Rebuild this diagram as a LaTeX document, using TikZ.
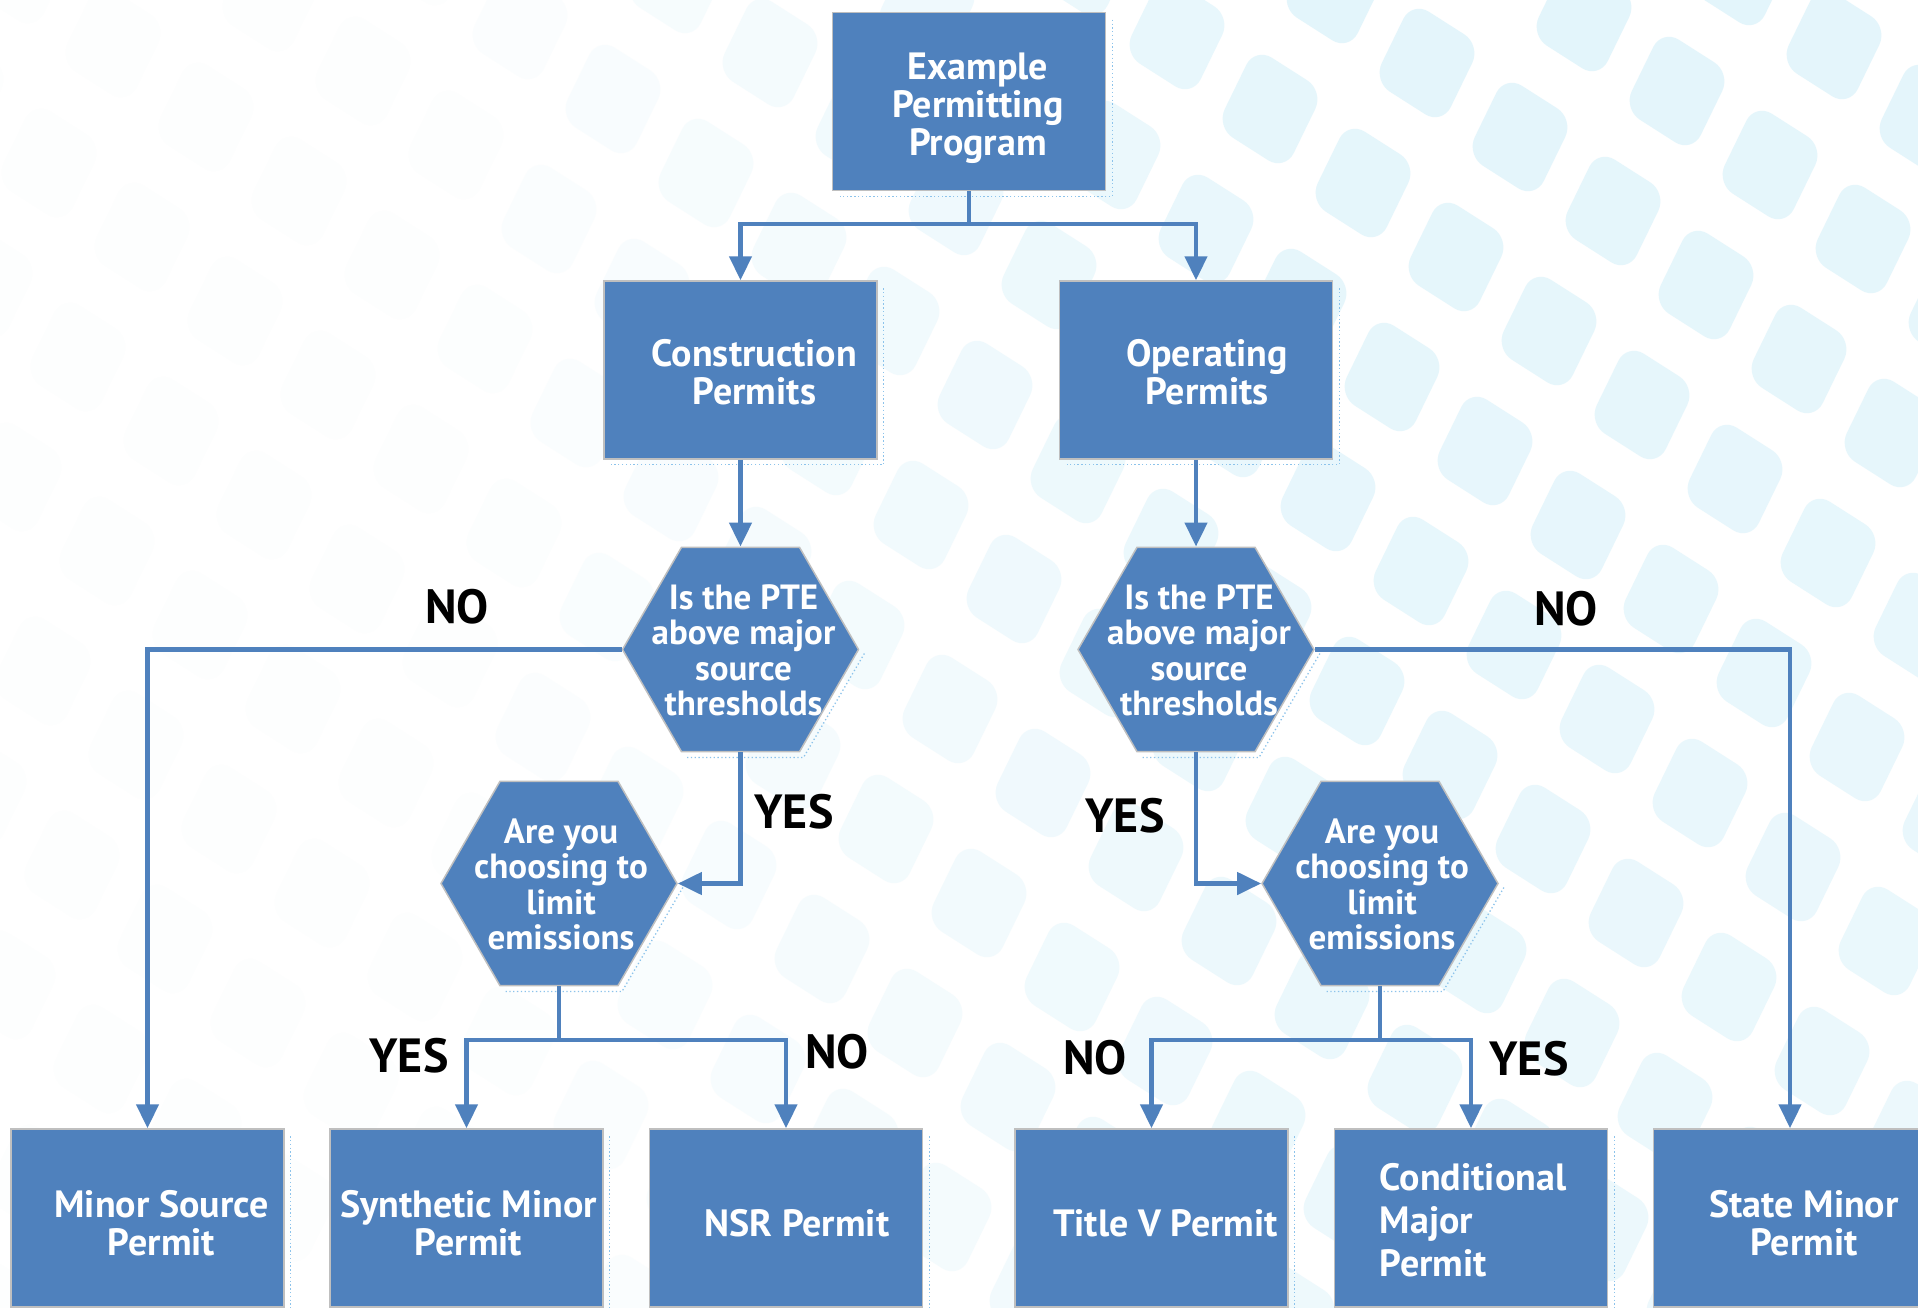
\documentclass[tikz,border=0pt]{standalone}
\usepackage{fontspec}
\setmainfont{PT Sans}
\usetikzlibrary{shapes.geometric,arrows.meta}
\definecolor{boxblue}{HTML}{4F81BD}
\definecolor{tilecol}{HTML}{DFF4FB}
\definecolor{edgegray}{HTML}{BFBFBF}
\definecolor{dotblue}{RGB}{140,195,235}
\newcommand\tb[2][c]{\begin{tabular}{@{}#1@{}}#2\end{tabular}}
\begin{document}
\begin{tikzpicture}[x=1pt,y=-1pt,
  box/.style={rectangle, fill=boxblue, draw=edgegray, line width=1.5pt,
    minimum width=273pt, minimum height=178pt, inner sep=0pt},
  hexa/.style={regular polygon, regular polygon sides=6, minimum size=236pt,
    fill=boxblue, draw=edgegray, line width=1.5pt, inner sep=0pt},
  ttxt/.style={text=white, font=\bfseries\fontsize{38}{36}\selectfont, inner sep=0pt},
  htxt/.style={text=white, font=\bfseries\fontsize{35}{35.5}\selectfont, inner sep=0pt},
  btxt/.style={text=white, font=\bfseries\fontsize{38}{36}\selectfont, inner sep=0pt},
  ctxt/.style={text=white, font=\bfseries\fontsize{38}{43}\selectfont, inner sep=0pt},
  lbl/.style={font=\bfseries\fontsize{48}{50}\selectfont, text=black, inner sep=0pt},
  conn/.style={draw=boxblue, line width=4.5pt},
  arr/.style={draw=boxblue, line width=4.5pt, -{Triangle[width=22pt,length=24pt]}},
  shadowdots/.style={draw=dotblue, line width=1.3pt, dash pattern=on 1.3pt off 2.5pt},
]
\useasboundingbox (0,0) rectangle (1918,1308);
\fill[white] (0,0) rectangle (1918,1308);
% background tiles
\begin{scope}
\clip (0,0) rectangle (1918,1308);
\foreach \i in {-12,...,10}{
  \foreach \j in {-4,...,15}{
    \pgfmathsetmacro\cx{1427+93*\i-64*\j}
    \pgfmathsetmacro\cy{63+74*\i+120*\j}
    \pgfmathsetmacro\op{min(0.85,max(0.06,(\cx-400)/1100))*(1-0.35*max(0,min(1,\cy/1308)))}
    \fill[tilecol, opacity=\op, rounded corners=20pt]
      ({\cx-15},{\cy-62}) -- ({\cx+54},{\cy-18}) -- ({\cx+15},{\cy+62}) -- ({\cx-54},{\cy+18}) -- cycle;
  }
}
\end{scope}

% nodes
\node[box, label={[ttxt,name=ttop,xshift=9pt,yshift=-8pt]center:\tb{Example\\Permitting\\Program}}] (top) at (969,101.5) {};
\node[box, label={[ttxt,name=tcons,xshift=14pt,yshift=-7pt]center:\tb{Construction\\Permits}}] (cons) at (740.5,370) {};
\node[box, label={[ttxt,name=toper,xshift=11pt,yshift=-7pt]center:\tb{Operating\\Permits}}] (oper) at (1196,370) {};

\node[hexa, label={[htxt,name=th1,xshift=3pt,yshift=-6pt]center:\tb{Is the PTE\\above major\\source\\thresholds}}] (hex1) at (740.5,649.5) {};
\node[hexa, label={[htxt,name=th2,xshift=3pt,yshift=-6pt]center:\tb{Is the PTE\\above major\\source\\thresholds}}] (hex2) at (1196,649.5) {};
\node[hexa, label={[htxt,name=th3,xshift=2pt,yshift=-6pt]center:\tb{Are you\\choosing to\\limit\\emissions}}] (hex3) at (559,883.5) {};
\node[hexa, label={[htxt,name=th4,xshift=2pt,yshift=-6pt]center:\tb{Are you\\choosing to\\limit\\emissions}}] (hex4) at (1380,883.5) {};

\node[box, label={[btxt,name=tb1,xshift=14pt,yshift=-10pt]center:\tb{Minor Source\\Permit}}] (b1) at (147.5,1218) {};
\node[box, label={[btxt,name=tb2,xshift=2pt,yshift=-10pt]center:\tb{Synthetic Minor\\Permit}}] (b2) at (466.5,1218) {};
\node[box, label={[btxt,name=tb3,xshift=11pt,yshift=-5pt]center:NSR Permit}] (b3) at (786,1218) {};
\node[box, label={[btxt,name=tb4,xshift=14pt,yshift=-5pt]center:Title V Permit}] (b4) at (1151.5,1218) {};
\node[box, label={[ctxt,name=tb5,xshift=2pt,yshift=-7pt]center:\tb[l]{Conditional\\Major\\Permit}}] (b5) at (1471,1218) {};
\node[box, label={[btxt,name=tb6,xshift=14pt,yshift=-10pt]center:\tb{State Minor\\Permit}}] (b6) at (1790,1218) {};

% soft dotted shadows
\foreach \n in {top,cons,oper,b1,b2,b3,b4,b5,b6}{
  \draw[shadowdots] ([xshift=6pt,yshift=-8pt]\n.north east) -- ([xshift=6pt,yshift=-5pt]\n.south east) -- ([xshift=8pt,yshift=-5pt]\n.south west);
}
\foreach \n in {hex1,hex2,hex3,hex4}{
  \draw[shadowdots] ([xshift=5pt,yshift=-4pt]\n.east) -- ([xshift=63pt,yshift=-5pt]\n.south) -- ([xshift=-55pt,yshift=-5pt]\n.south);
}

% connectors
\coordinate (j0) at (969,224);
\draw[conn] (top.south) -- (j0);
\draw[arr] (j0) -| (cons.north);
\draw[arr] (j0) -| (oper.north);
\draw[arr] (cons.south) -- (hex1.north);
\draw[arr] (oper.south) -- (hex2.north);
\draw[arr] (hex1.west) -| (b1.north);
\draw[arr] (hex1.south) |- (hex3.east);
\draw[arr] (hex2.east) -| (b6.north);
\draw[arr] (hex2.south) |- (hex4.west);
\coordinate (j3) at (559,1040);
\draw[conn] (hex3.south) -- (j3);
\draw[arr] (j3) -| (b2.north);
\draw[arr] (j3) -| (b3.north);
\coordinate (j4) at (1380,1040);
\draw[conn] (hex4.south) -- (j4);
\draw[arr] (j4) -| (b4.north);
\draw[arr] (j4) -| (b5.north);

% labels
\node[lbl] (no1) at (457,607) {NO};
\node[lbl] (no2) at (1566,609) {NO};
\node[lbl] (yes1) at (794,812) {YES};
\node[lbl] (yes2) at (1125,816) {YES};
\node[lbl] (yes3) at (409,1056) {YES};
\node[lbl] (no3) at (837,1052) {NO};
\node[lbl] (no4) at (1095,1058) {NO};
\node[lbl] (yes4) at (1529,1059) {YES};
\end{tikzpicture}
\end{document}
